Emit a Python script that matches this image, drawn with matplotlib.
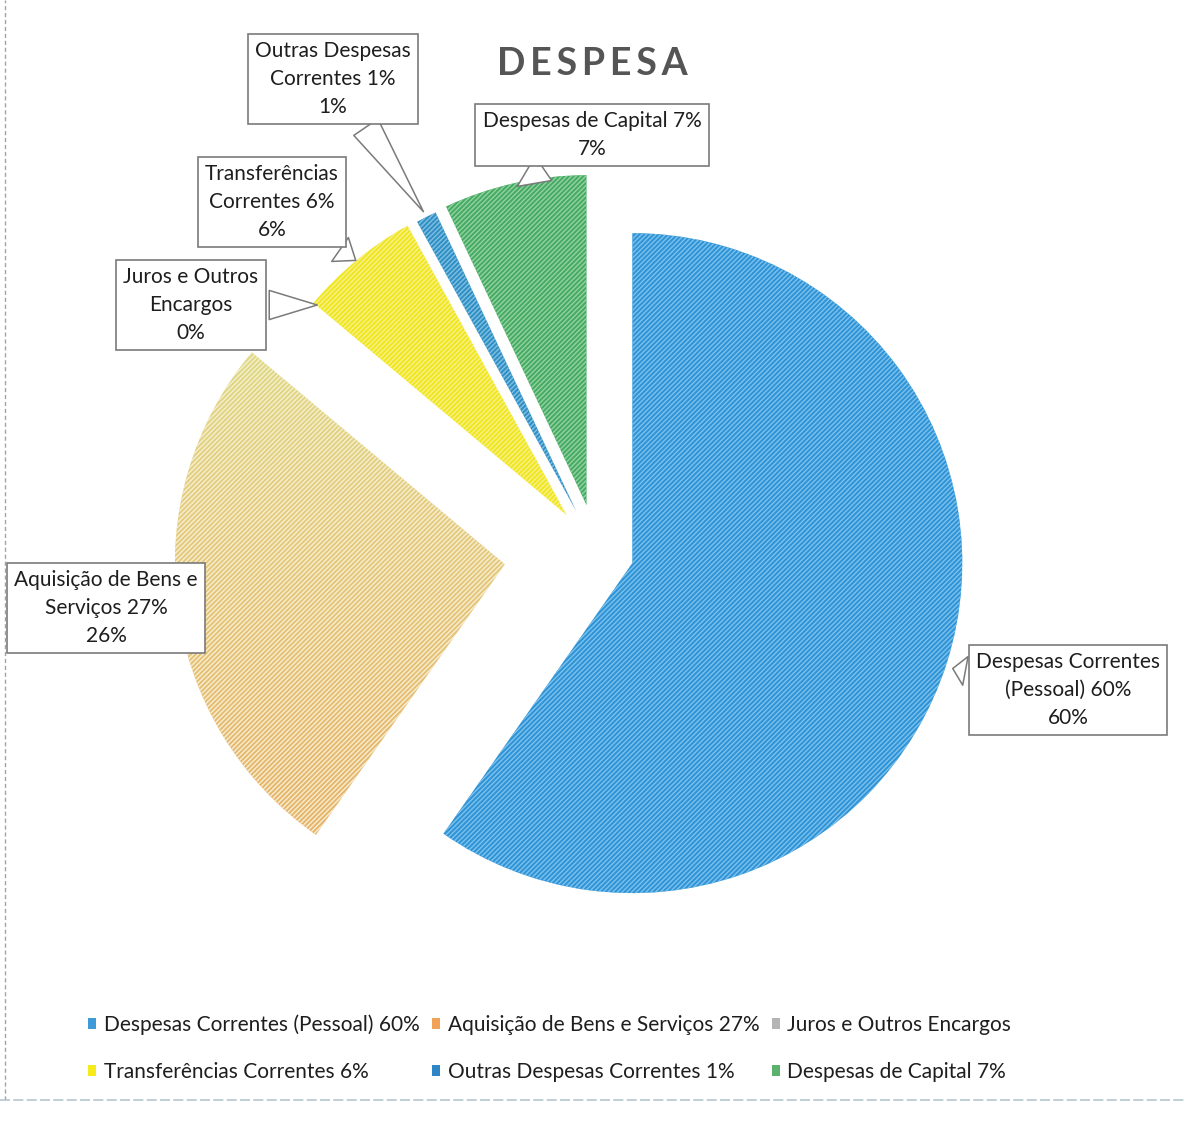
import numpy as np
import matplotlib.pyplot as plt
from matplotlib.patches import Patch
from matplotlib.lines import Line2D
from matplotlib.colors import to_rgb

W, H = 1184, 1122

# data
names = ["Despesas Correntes (Pessoal) 60%", "Aquisição de Bens e Serviços 27%",
         "Juros e Outros Encargos", "Transferências Correntes 6%",
         "Outras Despesas Correntes 1%", "Despesas de Capital 7%"]
label_names = ["Despesas Correntes\n(Pessoal) 60%", "Aquisição de Bens e\nServiços 27%",
               "Juros e Outros\nEncargos", "Transferências\nCorrentes 6%",
               "Outras Despesas\nCorrentes 1%", "Despesas de Capital 7%"]
values = [59.7, 26.4, 0.0, 5.9, 1.0, 7.0]

# styles
colors = ["#2f93d5", "none", "#a6a6a6", "#f0e61e", "#2f8fc4", "#45aa62"]
hatch_colors = ["#7cc2ee", "#f6efd2", "#d0d0d0", "#f7f18a", "#80c0e2", "#94d2a2"]
legend_colors = ["#3f9ad8", "#f0a356", "#b4b4b4", "#f4ea1c", "#2e86c6", "#5ab26c"]
explode = [37, 93, 40, 48, 46, 48]

plt.rcParams['font.family'] = ['Lato', 'DejaVu Sans']
plt.rcParams['hatch.linewidth'] = 1.0

fig = plt.figure(figsize=(W / 100, H / 100), dpi=100)
ax = fig.add_axes([0, 0, 1, 1])

cx, cy = 597, H - 552
R = 330
wedges, _ = ax.pie(values, colors=colors, startangle=90, counterclock=False,
                   center=(cx, cy), radius=R, explode=explode,
                   wedgeprops=dict(linewidth=0))
for w, hc in zip(wedges, hatch_colors):
    w.set_hatch('/' * 7)
    w.set_edgecolor(hc)

# yellow-to-tan shading of the scanned orange slice
w = wedges[1]
wx, wy = w.center
t = np.linspace(0, 1, 256)[:, None]
top = np.array(to_rgb('#d9e384'))
mid = np.array(to_rgb('#e4cd80'))
bot = np.array(to_rgb('#e8ae66'))
grad = np.where(t < 0.4, top + (mid - top) * (t / 0.4),
                mid + (bot - mid) * ((t - 0.4) / 0.6))
ax.imshow(grad[:, None, :], extent=[wx - R, wx + 5, wy - R, wy + R],
          origin='upper', aspect='auto', zorder=0.5, clip_path=w)

# data labels in callout boxes
label_pos = [(1068, 690), (106, 608), (191, 305), (272, 202), (333, 79), (592, 135)]
tips = [(950, 668), None, (320, 305), (358, 262), (425, 214), (515, 188)]
box = dict(boxstyle='square,pad=0.35', fc='white', ec='#7a7a7a', lw=1.2)
for i in range(len(values)):
    txt = f"{label_names[i]}\n{values[i]:.0f}%"
    lx, ly = label_pos[i]
    if tips[i] is None:
        ax.text(lx, H - ly, txt, ha='center', va='center', fontsize=15,
                color='#1e1e1e', bbox=box, linespacing=1.5, zorder=5)
    else:
        tx, ty = tips[i]
        ax.annotate(txt, xy=(tx, H - ty), xytext=(lx, H - ly), ha='center', va='center',
                    fontsize=15, color='#1e1e1e', bbox=box, linespacing=1.5, zorder=5,
                    arrowprops=dict(arrowstyle='wedge,tail_width=1.4,shrink_factor=0.5',
                                    fc='white', ec='#7a7a7a', lw=1.1))

ax.text(592, H - 64, "\u2009".join("DESPESA"), ha='center', va='center',
        fontsize=27, fontweight='bold', color='#555555')

ax.set_xlim(0, W)
ax.set_ylim(0, H)
ax.set_aspect('equal')
ax.axis('off')

order = [0, 3, 1, 4, 2, 5]
handles = [Patch(facecolor=legend_colors[i], edgecolor='none') for i in order]
leg = fig.legend(handles, [names[i] for i in order], ncol=3, loc='upper left',
                 bbox_to_anchor=(88 / W, 1 - 1014 / H), frameon=False, fontsize=15,
                 handlelength=0.4, handleheight=0.45, handletextpad=0.35,
                 columnspacing=0.6, labelspacing=1.3, borderaxespad=0, borderpad=0)
for txt in leg.get_texts():
    txt.set_color('#1e1e1e')

# scanned page frame
fig.add_artist(Line2D([5 / W, 5 / W], [1 - 1100 / H, 1], transform=fig.transFigure,
                      color='#9aa6ae', lw=1, ls=(0, (3, 2))))
fig.add_artist(Line2D([0, 1], [1 - 1100 / H, 1 - 1100 / H], transform=fig.transFigure,
                      color='#b8c6d0', lw=1.2, ls=(0, (6, 2))))

fig.savefig("out.png", dpi=100)
